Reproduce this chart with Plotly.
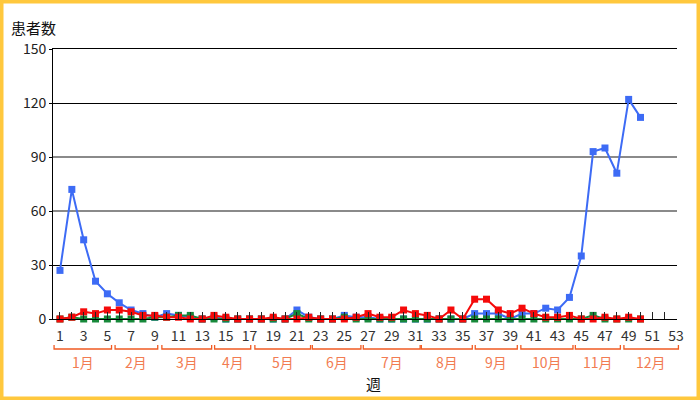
import plotly.graph_objects as go

weeks = list(range(1, 51))
blue = [27, 72, 44, 21, 14, 9, 5, 3, 1, 3, 2, 1, 0, 1, 0, 0, 0, 0, 0, 0,
        5, 1, 0, 0, 2, 1, 1, 0, 0, 0, 0, 0, 0, 0, 0, 3, 3, 3, 0, 3,
        3, 6, 5, 12, 35, 93, 95, 81, 122, 112]
green = [0, 1, 0, 0, 0, 0, 0, 0, 1, 1, 2, 2, 0, 0, 0, 0, 0, 0, 0, 0,
         3, 0, 0, 0, 1, 0, 0, 0, 0, 0, 0, 0, 0, 0, 0, 0, 0, 0, 0, 0,
         0, 0, 0, 0, 0, 2, 0, 0, 0, 0]
red = [0, 1, 4, 3, 5, 5, 4, 2, 2, 1, 1, 0, 0, 2, 1, 0, 0, 0, 1, 0,
       0, 1, 0, 0, 0, 1, 3, 1, 1, 5, 3, 2, 0, 5, 0, 11, 11, 5, 3, 6,
       3, 1, 1, 2, 0, 0, 1, 0, 1, 0]

all_weeks = list(range(1, 54))
tick_text = [str(w) if w % 2 == 1 else "" for w in all_weeks]
y_ticks = [0, 30, 60, 90, 120, 150]
black_grid = [30, 120]
gray_grid = [60, 90]

months = ["1月", "2月", "3月", "4月", "5月", "6月", "7月", "8月", "9月", "10月", "11月", "12月"]
month_start = [0.5, 5.65, 9.6, 14.05, 17.45, 22.3, 26.6, 31.5, 36.05, 39.9, 44.5, 48.6]
month_end = [5.35, 9.25, 13.8, 17.1, 22.15, 26.4, 31.4, 35.8, 39.6, 44.3, 48.3, 53.2]

W, H = 700, 400
ML, MR, MT, MB = 53, 23, 49, 81
XR = [0.41, 53.08]
YR = [0, 150]
pw, ph = W - ML - MR, H - MT - MB


def px_x(px):
    return (px - ML) / pw


def px_y(py):
    return (H - MB - py) / ph


def wk_x(w):
    return (w - XR[0]) / (XR[1] - XR[0])


FONT = "Noto Sans CJK JP"
fig = go.Figure()
for vals, col in [(blue, "#3D6BF5"), (green, "#17893A"), (red, "#F50A0A")]:
    fig.add_trace(go.Scatter(x=weeks, y=vals, mode="lines+markers",
                             line=dict(color=col, width=2),
                             marker=dict(symbol="square", size=7, color=col),
                             cliponaxis=False, showlegend=False))
# invisible trace to activate a top axis line (frame at 150)
fig.add_trace(go.Scatter(x=[XR[0]], y=[0], xaxis="x2", mode="markers",
                         marker=dict(opacity=0), hoverinfo="skip", showlegend=False))

shapes = []
for yv in gray_grid:
    shapes.append(dict(type="line", xref="paper", yref="y", x0=0, x1=1, y0=yv, y1=yv,
                       line=dict(color="#8a8a8a", width=2), layer="below"))
br_y = px_y(349)
br_top = px_y(345)
for s, e in zip(month_start, month_end):
    x0, x1 = wk_x(s), wk_x(e)
    shapes.append(dict(type="path", xref="paper", yref="paper",
                       path=f"M{x0},{br_top} L{x0},{br_y} L{x1},{br_y} L{x1},{br_top}",
                       line=dict(color="#F05A22", width=1.3)))
shapes.append(dict(type="rect", xref="paper", yref="paper",
                   x0=px_x(0), x1=px_x(W), y0=px_y(H), y1=px_y(0),
                   line=dict(color="#FFC83D", width=7)))

annotations = []
for m, s, e in zip(months, month_start, month_end):
    annotations.append(dict(text=m, xref="paper", yref="paper", x=wk_x((s + e) / 2), y=px_y(362),
                            showarrow=False, font=dict(family=FONT, size=14, color="#F27C52"),
                            xanchor="center", yanchor="middle"))
annotations.append(dict(text="週", xref="paper", yref="paper", x=px_x(373), y=px_y(383),
                        showarrow=False, font=dict(family=FONT, size=15, color="#111"),
                        xanchor="center", yanchor="middle"))
annotations.append(dict(text="患者数", xref="paper", yref="paper", x=px_x(9), y=px_y(27),
                        showarrow=False, font=dict(family=FONT, size=15, color="#111"),
                        xanchor="left", yanchor="middle"))

fig.update_layout(
    width=W, height=H, margin=dict(l=ML, r=MR, t=MT, b=MB),
    paper_bgcolor="white", plot_bgcolor="white",
    font=dict(family=FONT, size=14, color="#222"),
    shapes=shapes, annotations=annotations,
    xaxis=dict(range=XR, tickmode="array", tickvals=all_weeks, ticktext=tick_text,
               ticks="inside", ticklen=7, tickcolor="#222", tickwidth=1,
               ticklabelstandoff=4,
               showgrid=False, zeroline=False, showline=True, linecolor="black", linewidth=1,
               tickfont=dict(family=FONT, size=14, color="#333")),
    xaxis2=dict(range=XR, overlaying="x", side="top", showline=True, linecolor="black",
                linewidth=1, showticklabels=False, ticks="", showgrid=False, zeroline=False),
    yaxis=dict(range=YR, tickmode="array", tickvals=y_ticks,
               ticks="outside", ticklen=3, tickcolor="black",
               showgrid=False, zeroline=False,
               showline=True, linecolor="black", linewidth=1,
               minor=dict(tickmode="array", tickvals=black_grid, ticks="",
                          showgrid=True, gridcolor="black", gridwidth=1),
               tickfont=dict(family=FONT, size=14, color="#222")),
)
fig.write_html("out.html", config={"displayModeBar": False},
               post_script="document.body.style.margin='0';document.body.style.padding='0';")
